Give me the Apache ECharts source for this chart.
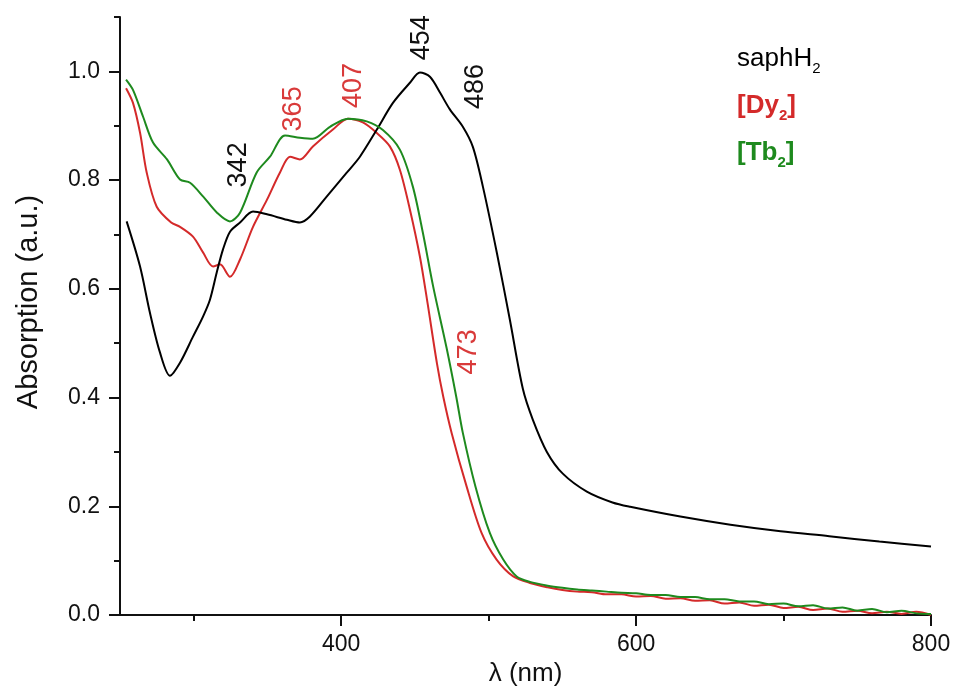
<!DOCTYPE html>
<html>
<head>
<meta charset="utf-8">
<script src="https://cdn.jsdelivr.net/npm/echarts@6/dist/echarts.min.js"></script>
<style>html,body{margin:0;padding:0;background:#fff}#c{width:953px;height:686px}</style>
</head>
<body>
<div id="c"></div>
<script>
// ---- data ----
const saphX = [254.5, 263.6, 270.3, 277.1, 283.9, 290.7, 299.5, 306.3, 311, 315.6, 319.8, 324.6, 331.4, 340.2, 349.7, 363.2, 372, 378.8, 390.3, 403.9, 412.7, 424.2, 435.1, 446.6, 453.4, 460.2, 467, 473.7, 482.5, 489.3, 496.1, 505.6, 514.4, 523.2, 530, 539.5, 550.3, 566.6, 584, 596, 630, 664, 698, 731, 765, 800];
const saphY = [0.724, 0.641, 0.556, 0.483, 0.440, 0.464, 0.512, 0.549, 0.580, 0.630, 0.672, 0.705, 0.722, 0.742, 0.737, 0.727, 0.722, 0.733, 0.770, 0.814, 0.843, 0.893, 0.942, 0.979, 0.998, 0.990, 0.961, 0.930, 0.898, 0.861, 0.788, 0.666, 0.543, 0.416, 0.359, 0.300, 0.260, 0.227, 0.207, 0.199, 0.181, 0.166, 0.154, 0.145, 0.135, 0.126];

const dyX = [254.1, 258.8, 263.6, 268.1, 274.9, 284.7, 290.7, 299.5, 306.3, 313.1, 317.8, 324.6, 331.4, 340.2, 349.7, 358.5, 365.3, 372, 380.8, 394.4, 404.6, 414.7, 424, 433, 439.8, 446.6, 453.4, 458.5, 465, 469.2, 474.9, 485, 495.2, 505.4, 516.7, 528, 540, 550, 560, 570, 580, 590, 600, 610, 620, 630, 640, 650, 660, 670, 680, 690, 700, 710, 720, 730, 740, 750, 760, 770, 780, 790, 800];
const dyY = [0.969, 0.942, 0.887, 0.814, 0.751, 0.722, 0.714, 0.696, 0.667, 0.641, 0.645, 0.622, 0.654, 0.714, 0.764, 0.814, 0.843, 0.838, 0.862, 0.893, 0.913, 0.906, 0.887, 0.862, 0.819, 0.746, 0.659, 0.575, 0.462, 0.402, 0.335, 0.237, 0.151, 0.102, 0.071, 0.059, 0.051, 0.046, 0.043, 0.042, 0.038, 0.038, 0.034, 0.035, 0.030, 0.031, 0.026, 0.027, 0.021, 0.023, 0.017, 0.019, 0.013, 0.015, 0.009, 0.012, 0.006, 0.008, 0.003, 0.006, 0.002, 0.006, 0.000];

const tbX = [254.1, 258.8, 265.6, 272.4, 281.9, 290.7, 297.5, 306.3, 315.8, 324.6, 331.4, 342.7, 351.7, 361.9, 372, 380.8, 392.4, 404.6, 417.3, 428.3, 439.8, 448.6, 455.4, 462.4, 471.5, 478, 482.5, 491, 500.8, 509.9, 519, 528, 540, 550, 560, 570, 580, 590, 600, 610, 620, 630, 640, 650, 660, 670, 680, 690, 700, 710, 720, 730, 740, 750, 760, 770, 780, 790, 800];
const tbY = [0.985, 0.966, 0.917, 0.869, 0.838, 0.801, 0.795, 0.770, 0.740, 0.724, 0.740, 0.814, 0.843, 0.882, 0.878, 0.876, 0.898, 0.913, 0.908, 0.892, 0.856, 0.788, 0.703, 0.604, 0.491, 0.402, 0.335, 0.237, 0.151, 0.102, 0.071, 0.061, 0.054, 0.050, 0.047, 0.045, 0.043, 0.041, 0.040, 0.037, 0.037, 0.033, 0.033, 0.029, 0.029, 0.025, 0.025, 0.020, 0.021, 0.016, 0.018, 0.012, 0.014, 0.008, 0.011, 0.005, 0.008, 0.003, 0.002];

const xMajorTicks = [400, 600, 800];
const xMinorTicks = [300, 500, 700];
const yMajorTicks = [0, 0.2, 0.4, 0.6, 0.8, 1.0];
const yMinorTicks = [0.1, 0.3, 0.5, 0.7, 0.9, 1.1];

const saphPeaks = [['342', 330.7, 0.828], ['454', 454.5, 1.062], ['486', 491.4, 0.972]];
const dyPeaks = [['365', 368, 0.931], ['407', 408.6, 0.974], ['473', 486.6, 0.484]];

const names = ['saphH2', '[Dy2]', '[Tb2]'];
const colors = ['#000000', '#d42a2a', '#1e8a1e'];
const labelColors = ['#111111', '#d93a3a'];

// ---- chart ----
const FONT = "'Liberation Sans', Arial, sans-serif";
const zip = (xs, ys) => xs.map((x, i) => [x, ys[i]]);
const peaks = (list, color) => ({
  symbol: 'circle', symbolSize: 0, silent: true,
  label: { show: true, position: 'inside', rotate: 90, fontSize: 27, fontFamily: FONT, color: color, formatter: p => p.name },
  data: list.map(p => ({ name: p[0], coord: [p[1], p[2]] }))
});

const chart = echarts.init(document.getElementById('c'), null, { renderer: 'canvas' });
const axisLine = { show: true, lineStyle: { color: '#111', width: 2 } };
chart.setOption({
  animation: false,
  backgroundColor: '#ffffff',
  grid: { left: 120, right: 22, top: 17, bottom: 71, containLabel: false, outerBoundsMode: 'none' },
  legend: {
    orient: 'vertical', left: 727, top: 41, itemGap: 17,
    icon: 'none', itemWidth: 0, itemHeight: 10, selectedMode: false,
    formatter: n => n === 'saphH2' ? '{m|saphH}{s|2}' : (n === '[Dy2]' ? '{b|[Dy}{bs|2}{b|]}' : '{b|[Tb}{bs|2}{b|]}'),
    data: [
      { name: names[0], textStyle: { color: colors[0], rich: {
        m: { fontSize: 26, fontFamily: FONT, color: colors[0], lineHeight: 34 },
        s: { fontSize: 15, fontFamily: FONT, color: colors[0], lineHeight: 1, verticalAlign: 'bottom' } } } },
      { name: names[1], textStyle: { color: colors[1], rich: {
        b: { fontSize: 26, fontWeight: 'bold', fontFamily: FONT, color: colors[1], lineHeight: 34 },
        bs: { fontSize: 15, fontWeight: 'bold', fontFamily: FONT, color: colors[1], lineHeight: 3, verticalAlign: 'bottom' } } } },
      { name: names[2], textStyle: { color: colors[2], rich: {
        b: { fontSize: 26, fontWeight: 'bold', fontFamily: FONT, color: colors[2], lineHeight: 34 },
        bs: { fontSize: 15, fontWeight: 'bold', fontFamily: FONT, color: colors[2], lineHeight: 3, verticalAlign: 'bottom' } } } }
    ]
  },
  xAxis: [
    {
      type: 'value', min: 250, max: 800, position: 'bottom',
      axisLine: axisLine,
      axisTick: { show: true, customValues: xMajorTicks, length: 11, lineStyle: { color: '#111', width: 2 } },
      axisLabel: { customValues: xMajorTicks, fontSize: 23, fontFamily: FONT, color: '#111', margin: 18 },
      splitLine: { show: false },
      name: 'λ (nm)', nameLocation: 'middle', nameGap: 43,
      nameTextStyle: { fontSize: 26, fontFamily: FONT, color: '#111' }
    },
    {
      type: 'value', min: 250, max: 800, position: 'bottom',
      axisLine: { show: false },
      axisTick: { show: true, customValues: xMinorTicks, length: 6, lineStyle: { color: '#111', width: 2 } },
      axisLabel: { show: false },
      splitLine: { show: false }
    }
  ],
  yAxis: [
    {
      type: 'value', min: 0, max: 1.1, position: 'left',
      axisLine: axisLine,
      axisTick: { show: true, customValues: yMajorTicks, length: 11, lineStyle: { color: '#111', width: 2 } },
      axisLabel: { customValues: yMajorTicks, fontSize: 23, fontFamily: FONT, color: '#111', margin: 20, formatter: v => v.toFixed(1) },
      splitLine: { show: false },
      name: 'Absorption (a.u.)', nameLocation: 'middle', nameGap: 77,
      nameTextStyle: { fontSize: 29, fontFamily: FONT, color: '#111', padding: [0, 0, 0, 28] }
    },
    {
      type: 'value', min: 0, max: 1.1, position: 'left',
      axisLine: { show: false },
      axisTick: { show: true, customValues: yMinorTicks, length: 6, lineStyle: { color: '#111', width: 2 } },
      axisLabel: { show: false },
      splitLine: { show: false }
    }
  ],
  series: [
    { name: names[0], type: 'line', data: zip(saphX, saphY), showSymbol: false, smooth: 0.3, color: colors[0],
      lineStyle: { width: 2, color: colors[0] }, markPoint: peaks(saphPeaks, labelColors[0]), z: 3 },
    { name: names[1], type: 'line', data: zip(dyX, dyY), showSymbol: false, smooth: 0.3, color: colors[1],
      lineStyle: { width: 2, color: colors[1] }, markPoint: peaks(dyPeaks, labelColors[1]), z: 2 },
    { name: names[2], type: 'line', data: zip(tbX, tbY), showSymbol: false, smooth: 0.3, color: colors[2],
      lineStyle: { width: 2, color: colors[2] }, z: 4 }
  ]
});
</script>
</body>
</html>
